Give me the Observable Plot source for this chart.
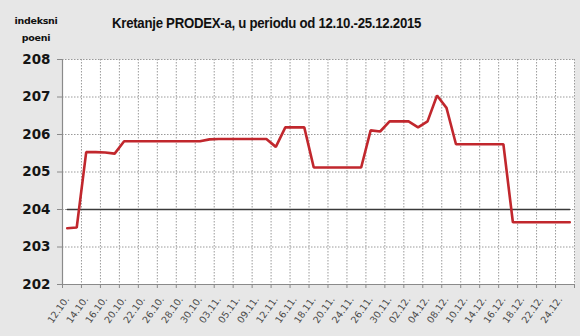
<!DOCTYPE html>
<html><head><meta charset="utf-8">
<script src="https://cdn.jsdelivr.net/npm/d3@7"></script>
<script src="https://cdn.jsdelivr.net/npm/@observablehq/plot@0.6"></script>
<style>
html,body{margin:0;padding:0;background:#e7e7e7;}
body{width:580px;height:336px;overflow:hidden;}
#head{position:relative;height:50px;}
#ylab{position:absolute;left:6px;top:12px;width:60px;text-align:center;font-family:"DejaVu Sans",sans-serif;font-weight:bold;font-size:9.5px;line-height:17px;color:#111;letter-spacing:-0.3px;}
#title{position:absolute;left:112px;top:14px;font-family:"Liberation Sans",sans-serif;font-weight:bold;font-size:15px;color:#111;white-space:nowrap;letter-spacing:-0.3px;transform:scaleX(0.88);transform-origin:0 50%;}
#chart{height:286px;}
</style></head><body>
<div id="head"><div id="ylab">indeksni<br>poeni</div><div id="title">Kretanje PRODEX-a, u periodu od 12.10.-25.12.2015</div></div>
<div id="chart"></div>
<script>
const dates = ["12.10.","13.10.","14.10.","15.10.","16.10.","19.10.","20.10.","21.10.","22.10.","23.10.",
  "26.10.","27.10.","28.10.","29.10.","30.10.","02.11.","03.11.","04.11.","05.11.","06.11.",
  "09.11.","10.11.","12.11.","13.11.","16.11.","17.11.","18.11.","19.11.","20.11.","23.11.",
  "24.11.","25.11.","26.11.","27.11.","30.11.","01.12.","02.12.","03.12.","04.12.","07.12.",
  "08.12.","09.12.","10.12.","11.12.","14.12.","15.12.","16.12.","17.12.","18.12.","21.12.",
  "22.12.","23.12.","24.12.","25.12."];
const values = [203.50,203.52,205.53,205.53,205.52,205.49,205.82,205.82,205.82,205.82,
  205.82,205.82,205.82,205.82,205.82,205.87,205.88,205.88,205.88,205.88,
  205.88,205.88,205.67,206.19,206.19,206.19,205.12,205.12,205.12,205.12,
  205.12,205.12,206.11,206.08,206.35,206.35,206.35,206.19,206.35,207.04,
  206.71,205.74,205.74,205.74,205.74,205.74,205.74,203.66,203.66,203.66,
  203.66,203.66,203.66,203.66];
const referenceLevel = 204;
const yTicks = [202,203,204,205,206,207,208];

const idx = dates.map((d, i) => i);
const labelIdx = idx.filter(i => i % 2 === 0);
const boundaries = labelIdx.map(i => i - 0.5).concat([dates.length - 0.5]);
const gridX = boundaries.slice(1);
const data = dates.map((d, i) => ({i, date: d, value: values[i], ref: referenceLevel}));

const chart = Plot.plot({
  width: 580, height: 286,
  marginTop: 9, marginBottom: 52, marginLeft: 62, marginRight: 6,
  style: {background: "transparent", overflow: "visible"},
  x: {type: "linear", domain: [-0.5, dates.length - 0.5], label: null},
  y: {domain: [202, 208], label: null},
  marks: [
    Plot.frame({fill: "white", stroke: null}),
    Plot.ruleY(yTicks.slice(1), {stroke: "#9a9a9a", strokeDasharray: "1.5,1.5"}),
    Plot.ruleX(gridX, {stroke: "#9a9a9a", strokeDasharray: "1.5,1.5"}),
    Plot.ruleX([-0.5], {stroke: "#8a8a8a", strokeWidth: 1.2}),
    Plot.ruleY([202], {stroke: "#8a8a8a", strokeWidth: 1.2}),
    Plot.axisY({ticks: yTicks, tickSize: 5, tickPadding: 7, tickFormat: d => String(d),
      stroke: "#8a8a8a", fill: "#151515", fontSize: 13.5, fontWeight: "bold",
      fontFamily: "DejaVu Sans", label: null}),
    Plot.axisX({ticks: boundaries, tickSize: 4, tickFormat: () => "", stroke: "#8a8a8a", label: null}),
    Plot.axisX({ticks: labelIdx, tickSize: 0, tickPadding: 13, tickFormat: i => dates[i],
      tickRotate: -55, fill: "#4a4a4a", fontSize: 9.5, fontFamily: "DejaVu Sans", label: null}),
    Plot.lineY(data, {x: "i", y: "ref", stroke: "#3a3a3a", strokeWidth: 1.6}),
    Plot.lineY(data, {x: "i", y: "value", stroke: "#c1272d", strokeWidth: 2.6, strokeLinejoin: "miter"})
  ]
});
document.getElementById("chart").appendChild(chart);
</script>
</body></html>
